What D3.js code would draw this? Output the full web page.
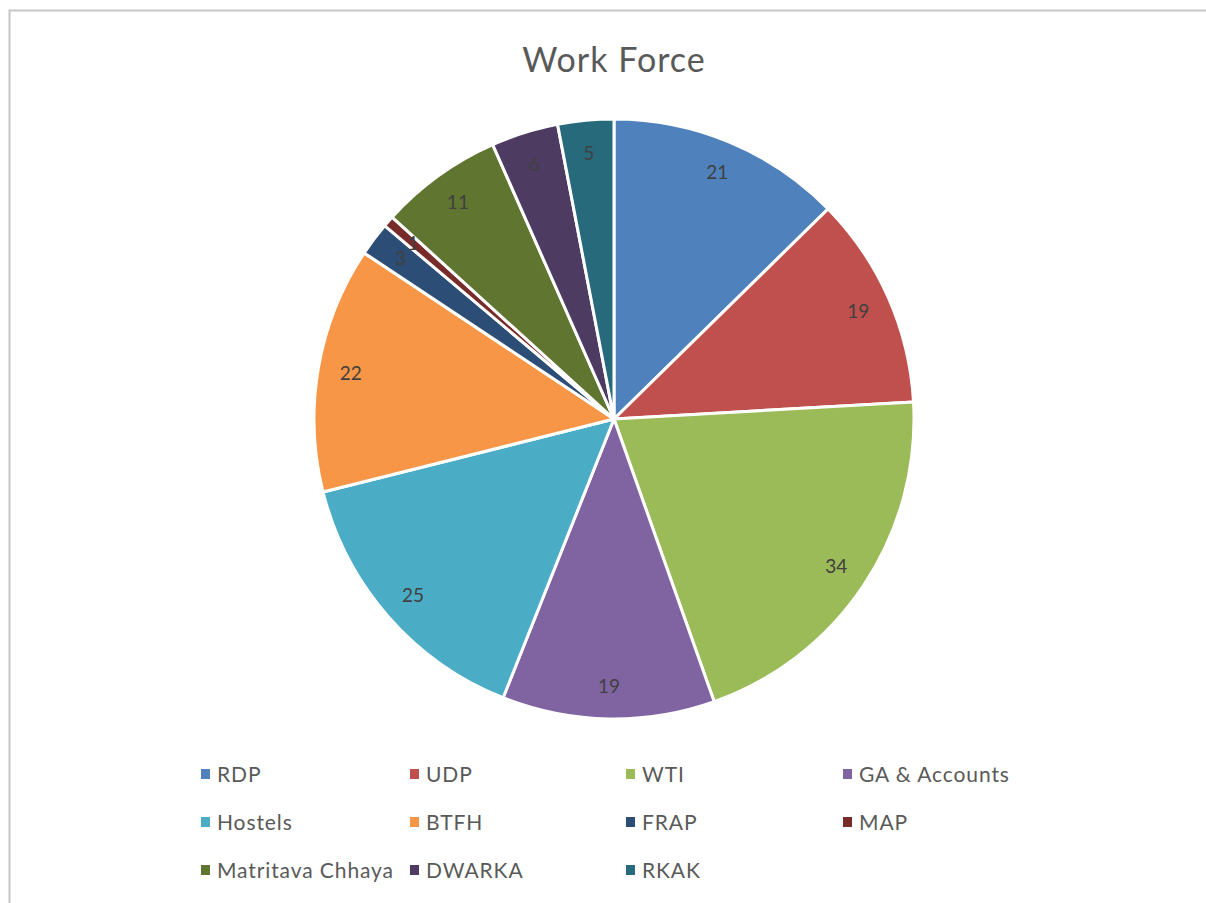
<!DOCTYPE html>
<html>
<head>
<meta charset="utf-8">
<script src="https://cdnjs.cloudflare.com/ajax/libs/d3/7.8.5/d3.min.js"></script>
<style>
  body { margin: 0; background: #fff; }
  svg text { font-family: Lato, "Open Sans", sans-serif; }
</style>
</head>
<body>
<svg id="chart" width="1206" height="903"></svg>
<script>
const categories = ['RDP', 'UDP', 'WTI', 'GA & Accounts', 'Hostels', 'BTFH', 'FRAP', 'MAP', 'Matritava Chhaya', 'DWARKA', 'RKAK'];
const values = [21, 19, 34, 19, 25, 22, 3, 1, 11, 6, 5];
const colors = ['#4F81BD', '#C0504D', '#9BBB59', '#8064A2', '#4BACC6', '#F79646', '#2C4D75', '#772C2A', '#5F7530', '#4D3B62', '#276A7C'];
const title = 'Work Force';

const data = categories.map((c, i) => ({ name: c, value: values[i], color: colors[i] }));

const svg = d3.select('#chart');

// chart area border (frame runs off the right and bottom)
svg.append('path')
  .attr('d', 'M9.5,903 L9.5,10.5 L1206,10.5')
  .attr('fill', 'none')
  .attr('stroke', '#c6c6c6')
  .attr('stroke-width', 2);

svg.append('text')
  .attr('x', 614).attr('y', 72)
  .attr('text-anchor', 'middle')
  .attr('font-size', 34)
  .attr('letter-spacing', 1)
  .attr('fill', '#595959')
  .text(title);

const cx = 614, cy = 419, radius = 300;

const pie = d3.pie().value(d => d.value).sort(null);
const arc = d3.arc().innerRadius(0).outerRadius(radius);
const labelArc = d3.arc().innerRadius(267).outerRadius(267);

const g = svg.append('g').attr('transform', `translate(${cx}, ${cy})`);
const arcs = pie(data);

g.selectAll('path.slice')
  .data(arcs).enter().append('path')
  .attr('class', 'slice')
  .attr('d', arc)
  .style('fill', d => d.data.color)
  .style('stroke', '#fff')
  .style('stroke-width', '3px')
  .style('stroke-linejoin', 'round');

g.selectAll('text.lbl')
  .data(arcs).enter().append('text')
  .attr('class', 'lbl')
  .attr('transform', d => `translate(${labelArc.centroid(d)})`)
  .attr('text-anchor', 'middle')
  .attr('dy', '0.35em')
  .attr('font-size', 19)
  .attr('fill', '#404040')
  .text(d => d.data.value);

// legend: 4 columns, entries flow right when a label overflows its column
const legend = svg.append('g').attr('class', 'legend');
const colX = [201, 410, 626, 843];
const rowY = [775, 823, 871];
let prevEnd = 0;
data.forEach((d, i) => {
  const col = i % 4, row = Math.floor(i / 4);
  if (col === 0) prevEnd = 0;
  const x = Math.max(colX[col], prevEnd + 6);
  const y = rowY[row];
  legend.append('rect')
    .attr('x', x).attr('y', y - 6)
    .attr('width', 9).attr('height', 10)
    .attr('fill', d.color);
  const t = legend.append('text')
    .attr('x', x + 16).attr('y', y)
    .attr('dy', '0.35em')
    .attr('font-size', 21)
    .attr('letter-spacing', 0.9)
    .attr('fill', '#595959')
    .text(d.name);
  prevEnd = x + 16 + t.node().getComputedTextLength();
});
</script>
</body>
</html>
